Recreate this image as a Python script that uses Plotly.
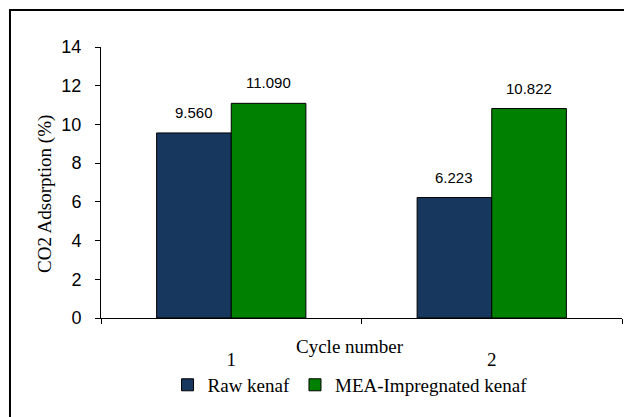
import plotly.graph_objects as go

categories = ["1", "2"]
raw_kenaf = [9.560, 6.223]
mea_kenaf = [11.090, 10.822]
series_names = ["Raw kenaf", "MEA-Impregnated kenaf"]
y_ticks = [0, 2, 4, 6, 8, 10, 12, 14]

colors = ["#17375E", "#008000"]
bargap = 0.427
serif = "Liberation Serif, Times New Roman, serif"
sans = "Liberation Sans, Arial, sans-serif"

fig = go.Figure()
for name, vals, col in zip(series_names, [raw_kenaf, mea_kenaf], colors):
    fig.add_trace(go.Bar(
        x=categories, y=vals, name=name,
        marker=dict(color=col, line=dict(color="#000000", width=1)),
    ))

# data labels above bars
group_w = 1 - bargap
for j, vals in enumerate([raw_kenaf, mea_kenaf]):
    for i, v in enumerate(vals):
        fig.add_annotation(
            x=i + (j - 0.5) * group_w / 2, y=v, xref="x", yref="y",
            text=f"{v:.3f}", showarrow=False, yanchor="bottom", yshift=10,
            font=dict(family=sans, size=15, color="#000000"),
        )

# axis titles as annotations
fig.add_annotation(
    x=-0.1075, y=0.4576, xref="paper", yref="paper", text="CO2 Adsorption (%)",
    xanchor="center", yanchor="middle",
    textangle=-90, showarrow=False, font=dict(family=serif, size=19, color="#000000"),
)
fig.add_annotation(
    x=0.478, y=-0.107, xref="paper", yref="paper", text="Cycle number",
    xanchor="center", yanchor="middle",
    showarrow=False, font=dict(family=serif, size=19, color="#000000"),
)

# outer chart border
fig.add_shape(type="rect", xref="paper", yref="paper",
              x0=-0.1747, x1=1.2, y0=-0.6, y1=1.1365,
              line=dict(color="#000000", width=2), fillcolor="rgba(0,0,0,0)")

fig.update_layout(
    width=624, height=409,
    margin=dict(l=93, r=10, t=39, b=99),
    paper_bgcolor="white", plot_bgcolor="white",
    barmode="group", bargap=bargap, bargroupgap=0,
    showlegend=True,
    legend=dict(orientation="h", x=0.478, xanchor="center", y=-0.247, yanchor="middle",
                font=dict(family=serif, size=19, color="#000000"),
                bgcolor="rgba(0,0,0,0)"),
    xaxis=dict(
        type="category", showline=True, linecolor="#000000", linewidth=1,
        ticks="outside", tickson="boundaries", ticklen=5, tickcolor="#000000",
        showgrid=False, tickfont=dict(family=serif, size=19, color="#000000"),
        ticklabelstandoff=24,
    ),
    yaxis=dict(
        range=[0, 14], tickvals=y_ticks, showline=True, linecolor="#000000", linewidth=1,
        ticks="outside", ticklen=5, tickcolor="#000000", showgrid=False, zeroline=False,
        tickfont=dict(family=sans, size=18, color="#000000"), ticklabelstandoff=10,
    ),
)

fig.write_html("out.html")
